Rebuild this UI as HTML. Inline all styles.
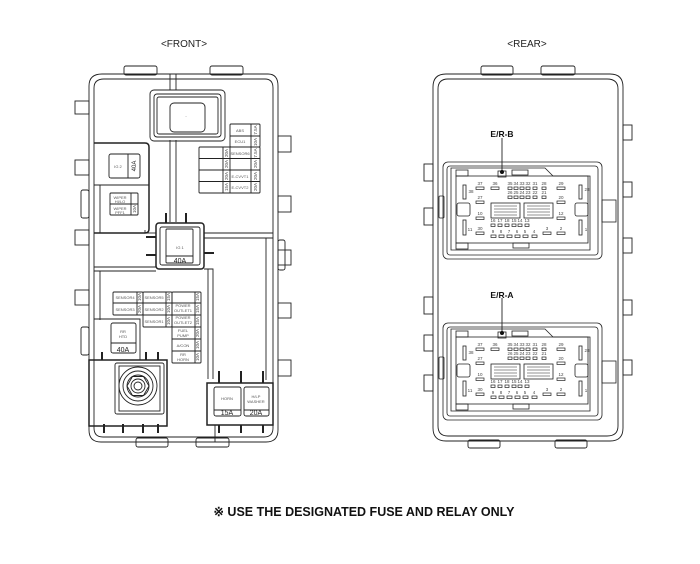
<!DOCTYPE html>
<html><head><meta charset="utf-8"><style>
html,body{margin:0;padding:0;background:#fff;}
svg{display:block;font-family:"Liberation Sans",sans-serif;}
.t{font-size:4px;fill:#555;text-anchor:middle;}
.p{font-size:4.5px;fill:#444;text-anchor:middle;}
</style></head><body>
<svg width="700" height="564" viewBox="0 0 700 564" xmlns="http://www.w3.org/2000/svg">
<g fill="none" stroke="#222" stroke-width="0.9">
<!-- FRONT body -->
<path d="M102 74 H268 Q278 74 278 86 V430 Q278 442 266 442 H101 Q89 442 89 430 V86 Q89 74 102 74 Z"/>
<path d="M104 79 H265 Q273 79 273 88 V428 Q273 437 264 437 H103 Q94 437 94 428 V88 Q94 79 104 79 Z"/>
<rect x="124" y="66" width="33" height="9" rx="2"/><rect x="210" y="66" width="33" height="9" rx="2"/>
<line x1="170" y1="74" x2="170" y2="90"/><line x1="176" y1="74" x2="176" y2="90"/>
<line x1="170" y1="140" x2="170" y2="222"/><line x1="176" y1="140" x2="176" y2="222"/>
<!-- left tabs -->
<rect x="75" y="101" width="14" height="13"/><rect x="75" y="160" width="14" height="15"/><rect x="75" y="230" width="14" height="15"/><rect x="75" y="290" width="14" height="15"/>
<rect x="81" y="190" width="8" height="28" rx="2"/><rect x="81" y="327" width="8" height="28" rx="2"/>
<!-- right tabs -->
<rect x="278" y="136" width="13" height="16"/><rect x="278" y="196" width="13" height="16"/><rect x="278" y="250" width="13" height="15"/><rect x="278" y="303" width="13" height="15"/><rect x="278" y="360" width="13" height="16"/>
<rect x="278" y="240" width="7" height="30" rx="2"/>
<!-- top relay -->
<rect x="150" y="90" width="75" height="51" rx="4"/><rect x="154" y="94" width="67" height="43" rx="3"/><rect x="157" y="97" width="61" height="37" rx="2"/>
<rect x="170" y="103" width="35" height="29" rx="4"/>
<!-- ABS / ECU1 -->
<rect x="230" y="124" width="30" height="23" rx="1"/><line x1="230" y1="136" x2="260" y2="136"/><line x1="251" y1="124" x2="251" y2="147"/>
<rect x="199" y="147" width="61" height="46" rx="1"/>
<line x1="199" y1="158.5" x2="260" y2="158.5"/><line x1="199" y1="170" x2="260" y2="170"/><line x1="199" y1="181.5" x2="260" y2="181.5"/>
<line x1="223" y1="147" x2="223" y2="193"/><line x1="230" y1="147" x2="230" y2="193"/><line x1="251" y1="147" x2="251" y2="193"/>
<!-- left region -->
<path d="M94 143 H145 Q149 143 149 147 V229 Q149 233 145 233 H94" stroke-width="1.5"/>
<line x1="94" y1="185" x2="149" y2="185"/><line x1="100" y1="185" x2="100" y2="233"/>
<rect x="109" y="154" width="31" height="24" rx="2"/><line x1="128" y1="154" x2="128" y2="178"/>
<rect x="110" y="193" width="28" height="22" rx="1"/><line x1="110" y1="204" x2="138" y2="204"/><line x1="131" y1="193" x2="131" y2="215"/>
<!-- IG1 -->
<rect x="156" y="223" width="48" height="46" rx="3" stroke-width="1.5"/><rect x="160" y="227" width="40" height="38" rx="2"/>
<rect x="166" y="229" width="27" height="34" rx="1"/><line x1="166" y1="256" x2="193" y2="256"/>
<line x1="145" y1="233" x2="156" y2="233"/><line x1="204" y1="233" x2="273" y2="233"/><line x1="204" y1="238" x2="273" y2="238"/>
<line x1="145" y1="230" x2="145" y2="233"/>
<line x1="94" y1="267" x2="156" y2="267"/><line x1="94" y1="271" x2="156" y2="271"/>
<line x1="100" y1="271" x2="100" y2="320"/>
<path d="M204 269 H213 V379" /><path d="M208 269 V379"/>
<line x1="266" y1="238" x2="266" y2="380"/>
<!-- fuse grid bottom -->
<rect x="113" y="292" width="30" height="23" rx="1"/><line x1="113" y1="303" x2="143" y2="303"/><line x1="137" y1="292" x2="137" y2="315"/>
<rect x="143" y="292" width="29" height="35" rx="1"/><line x1="143" y1="303" x2="172" y2="303"/><line x1="143" y1="315" x2="172" y2="315"/><line x1="166" y1="292" x2="166" y2="327"/>
<rect x="172" y="292" width="29" height="71" rx="1"/>
<line x1="172" y1="303" x2="201" y2="303"/><line x1="172" y1="315" x2="201" y2="315"/><line x1="172" y1="327" x2="201" y2="327"/><line x1="172" y1="339" x2="201" y2="339"/><line x1="172" y1="351" x2="201" y2="351"/>
<line x1="195" y1="292" x2="195" y2="363"/>
<!-- RR HTD -->
<path d="M94 319 H140 V360"/>
<rect x="111" y="323" width="25" height="30" rx="2"/><line x1="111" y1="343" x2="136" y2="343"/>
<!-- nut box -->
<rect x="89" y="360" width="78" height="66" stroke-width="1.5"/>
<rect x="115" y="363" width="49" height="51" rx="2"/><rect x="119" y="366" width="41" height="45"/>
<circle cx="138" cy="386" r="19"/><circle cx="138" cy="386" r="15"/><circle cx="138" cy="386" r="11"/><circle cx="138" cy="386" r="7"/><circle cx="138" cy="386" r="4"/>
<polygon points="127,386 132.5,376.5 143.5,376.5 149,386 143.5,395.5 132.5,395.5"/>
<line x1="102" y1="352" x2="102" y2="360" stroke-width="2"/><line x1="146" y1="352" x2="146" y2="360" stroke-width="2"/><line x1="158" y1="352" x2="158" y2="360" stroke-width="2"/>
<line x1="104" y1="424" x2="104" y2="433" stroke-width="2"/><line x1="123" y1="424" x2="123" y2="433" stroke-width="2"/><line x1="143" y1="424" x2="143" y2="433" stroke-width="2"/><line x1="158" y1="424" x2="158" y2="433" stroke-width="2"/>
<!-- HORN box -->
<rect x="207" y="383" width="66" height="42" stroke-width="1.5"/>
<rect x="214" y="387" width="27" height="29" rx="2"/><line x1="214" y1="410" x2="241" y2="410"/>
<rect x="244" y="387" width="25" height="29" rx="2"/><line x1="244" y1="410" x2="269" y2="410"/>
<line x1="219" y1="371" x2="219" y2="383" stroke-width="2"/><line x1="241" y1="371" x2="241" y2="383" stroke-width="2"/><line x1="263" y1="371" x2="263" y2="383" stroke-width="2"/>
<line x1="219" y1="425" x2="219" y2="433" stroke-width="2"/><line x1="241" y1="425" x2="241" y2="433" stroke-width="2"/><line x1="263" y1="425" x2="263" y2="433" stroke-width="2"/>
<line x1="215" y1="425" x2="215" y2="442"/>
<rect x="136" y="438" width="32" height="9" rx="2"/><rect x="196" y="438" width="33" height="9" rx="2"/>
<line x1="182" y1="40" x2="182" y2="40"/>
<!-- small pegs around IG1 -->
<line x1="166" y1="213" x2="166" y2="223" stroke-width="2"/><line x1="186" y1="213" x2="186" y2="223" stroke-width="2"/>
<line x1="146" y1="237" x2="156" y2="237" stroke-width="2"/><line x1="146" y1="255" x2="156" y2="255" stroke-width="2"/><line x1="204" y1="253" x2="214" y2="253" stroke-width="2"/>

<!-- REAR body -->
<path d="M446 74 H610 Q623 74 623 87 V428 Q623 441 610 441 H446 Q433 441 433 428 V87 Q433 74 446 74 Z"/>
<path d="M448 79 H607 Q618 79 618 89 V426 Q618 436 607 436 H448 Q438 436 438 426 V89 Q438 79 448 79 Z"/>
<rect x="481" y="66" width="32" height="9" rx="2"/><rect x="541" y="66" width="34" height="9" rx="2"/>
<rect x="468" y="440" width="32" height="8" rx="2"/><rect x="555" y="440" width="32" height="8" rx="2"/>
<rect x="424" y="164" width="9" height="17"/><rect x="424" y="208" width="9" height="17"/><rect x="424" y="297" width="9" height="17"/><rect x="424" y="335" width="9" height="16"/><rect x="424" y="375" width="9" height="16"/>
<rect x="623" y="125" width="9" height="15"/><rect x="623" y="182" width="9" height="15"/><rect x="623" y="238" width="9" height="15"/><rect x="623" y="300" width="9" height="15"/><rect x="623" y="360" width="9" height="15"/>
<line x1="502" y1="138" x2="502" y2="172"/><line x1="502" y1="298" x2="502" y2="333"/>
</g>
<!-- connectors -->
<g id="cb" fill="none" stroke="#222" stroke-width="0.8">
<rect x="443" y="162" width="159" height="97" rx="5"/><rect x="447" y="166" width="151" height="89" rx="3"/>
<path d="M451 168 H545 L553 176 H590 V250 H451 Z"/>
<rect x="456" y="176" width="132" height="67"/>
<rect x="456" y="170" width="12" height="6"/><rect x="498" y="171" width="8" height="6"/><rect x="512" y="170" width="16" height="5"/>
<rect x="456" y="243" width="12" height="6"/><rect x="513" y="243" width="16" height="5"/>
<rect x="457" y="203" width="13" height="13" rx="2"/><rect x="575" y="203" width="13" height="13" rx="2"/>
<rect x="463" y="185" width="3" height="14"/><rect x="463" y="220" width="3" height="15"/><rect x="579" y="185" width="3" height="14"/><rect x="579" y="220" width="3" height="15"/>
<rect x="491" y="203" width="29" height="15"/><rect x="524" y="203" width="29" height="15"/>
<path d="M494 206 H517 M494 209 H517 M494 212 H517 M494 215 H517 M527 206 H550 M527 209 H550 M527 212 H550 M527 215 H550" stroke-width="0.5"/>
<rect x="439" y="196" width="5" height="22" rx="1"/><rect x="602" y="200" width="14" height="22"/>
<g stroke-width="0.7">
<rect x="476" y="187" width="8" height="2.5"/><rect x="491" y="187" width="8" height="2.5"/><rect x="557" y="187" width="8" height="2.5"/>
<rect x="508" y="187" width="4" height="2.5"/><rect x="514" y="187" width="4" height="2.5"/><rect x="520" y="187" width="4" height="2.5"/><rect x="526" y="187" width="4" height="2.5"/><rect x="533" y="187" width="4" height="2.5"/><rect x="542" y="187" width="4" height="2.5"/>
<rect x="508" y="196" width="4" height="2.5"/><rect x="514" y="196" width="4" height="2.5"/><rect x="520" y="196" width="4" height="2.5"/><rect x="526" y="196" width="4" height="2.5"/><rect x="533" y="196" width="4" height="2.5"/><rect x="542" y="196" width="4" height="2.5"/>
<rect x="476" y="201" width="8" height="2.5"/><rect x="557" y="201" width="8" height="2.5"/>
<rect x="476" y="217" width="8" height="2.5"/><rect x="557" y="217" width="8" height="2.5"/>
<rect x="491" y="224" width="4" height="2.5"/><rect x="498" y="224" width="4" height="2.5"/><rect x="505" y="224" width="4" height="2.5"/><rect x="512" y="224" width="4" height="2.5"/><rect x="518" y="224" width="4" height="2.5"/><rect x="525" y="224" width="4" height="2.5"/>
<rect x="476" y="232" width="8" height="2.5"/><rect x="543" y="232" width="8" height="2.5"/><rect x="557" y="232" width="8" height="2.5"/>
<rect x="491" y="235" width="5" height="2.5"/><rect x="499" y="235" width="5" height="2.5"/><rect x="507" y="235" width="5" height="2.5"/><rect x="515" y="235" width="5" height="2.5"/><rect x="523" y="235" width="5" height="2.5"/><rect x="532" y="235" width="5" height="2.5"/>
</g>
</g>
<g transform="translate(0,161)" fill="none" stroke="#222" stroke-width="0.8">
<rect x="443" y="162" width="159" height="97" rx="5"/><rect x="447" y="166" width="151" height="89" rx="3"/>
<path d="M451 168 H545 L553 176 H590 V250 H451 Z"/>
<rect x="456" y="176" width="132" height="67"/>
<rect x="456" y="170" width="12" height="6"/><rect x="498" y="171" width="8" height="6"/><rect x="512" y="170" width="16" height="5"/>
<rect x="456" y="243" width="12" height="6"/><rect x="513" y="243" width="16" height="5"/>
<rect x="457" y="203" width="13" height="13" rx="2"/><rect x="575" y="203" width="13" height="13" rx="2"/>
<rect x="463" y="185" width="3" height="14"/><rect x="463" y="220" width="3" height="15"/><rect x="579" y="185" width="3" height="14"/><rect x="579" y="220" width="3" height="15"/>
<rect x="491" y="203" width="29" height="15"/><rect x="524" y="203" width="29" height="15"/>
<path d="M494 206 H517 M494 209 H517 M494 212 H517 M494 215 H517 M527 206 H550 M527 209 H550 M527 212 H550 M527 215 H550" stroke-width="0.5"/>
<rect x="439" y="196" width="5" height="22" rx="1"/><rect x="602" y="200" width="14" height="22"/>
<g stroke-width="0.7">
<rect x="476" y="187" width="8" height="2.5"/><rect x="491" y="187" width="8" height="2.5"/><rect x="557" y="187" width="8" height="2.5"/>
<rect x="508" y="187" width="4" height="2.5"/><rect x="514" y="187" width="4" height="2.5"/><rect x="520" y="187" width="4" height="2.5"/><rect x="526" y="187" width="4" height="2.5"/><rect x="533" y="187" width="4" height="2.5"/><rect x="542" y="187" width="4" height="2.5"/>
<rect x="508" y="196" width="4" height="2.5"/><rect x="514" y="196" width="4" height="2.5"/><rect x="520" y="196" width="4" height="2.5"/><rect x="526" y="196" width="4" height="2.5"/><rect x="533" y="196" width="4" height="2.5"/><rect x="542" y="196" width="4" height="2.5"/>
<rect x="476" y="201" width="8" height="2.5"/><rect x="557" y="201" width="8" height="2.5"/>
<rect x="476" y="217" width="8" height="2.5"/><rect x="557" y="217" width="8" height="2.5"/>
<rect x="491" y="224" width="4" height="2.5"/><rect x="498" y="224" width="4" height="2.5"/><rect x="505" y="224" width="4" height="2.5"/><rect x="512" y="224" width="4" height="2.5"/><rect x="518" y="224" width="4" height="2.5"/><rect x="525" y="224" width="4" height="2.5"/>
<rect x="476" y="232" width="8" height="2.5"/><rect x="543" y="232" width="8" height="2.5"/><rect x="557" y="232" width="8" height="2.5"/>
<rect x="491" y="235" width="5" height="2.5"/><rect x="499" y="235" width="5" height="2.5"/><rect x="507" y="235" width="5" height="2.5"/><rect x="515" y="235" width="5" height="2.5"/><rect x="523" y="235" width="5" height="2.5"/><rect x="532" y="235" width="5" height="2.5"/>
</g>
</g>
<circle cx="502" cy="172" r="2" fill="#111"/><circle cx="502" cy="333" r="2" fill="#111"/>
<!-- pin labels -->
<g class="p">
<text x="480" y="185">37</text><text x="495" y="185">36</text><text x="510" y="185">35</text><text x="516" y="185">34</text><text x="522" y="185">33</text><text x="528" y="185">32</text><text x="535" y="185">31</text><text x="544" y="185">28</text><text x="561" y="185">29</text>
<text x="510" y="194">26</text><text x="516" y="194">25</text><text x="522" y="194">24</text><text x="528" y="194">23</text><text x="535" y="194">22</text><text x="544" y="194">21</text>
<text x="480" y="199">27</text><text x="561" y="199">20</text><text x="480" y="215">10</text><text x="561" y="215">12</text>
<text x="493" y="222">16</text><text x="500" y="222">17</text><text x="507" y="222">18</text><text x="514" y="222">15</text><text x="520" y="222">14</text><text x="527" y="222">13</text>
<text x="480" y="230">30</text><text x="547" y="230">3</text><text x="561" y="230">2</text>
<text x="493" y="233">9</text><text x="501" y="233">8</text><text x="509" y="233">7</text><text x="517" y="233">6</text><text x="525" y="233">5</text><text x="534" y="233">4</text>
<text x="471" y="193">38</text><text x="587" y="191">28</text><text x="470" y="231">11</text><text x="586" y="231">1</text>
</g>
<g class="p" transform="translate(0,161)">
<text x="480" y="185">37</text><text x="495" y="185">36</text><text x="510" y="185">35</text><text x="516" y="185">34</text><text x="522" y="185">33</text><text x="528" y="185">32</text><text x="535" y="185">31</text><text x="544" y="185">28</text><text x="561" y="185">29</text>
<text x="510" y="194">26</text><text x="516" y="194">25</text><text x="522" y="194">24</text><text x="528" y="194">23</text><text x="535" y="194">22</text><text x="544" y="194">21</text>
<text x="480" y="199">27</text><text x="561" y="199">20</text><text x="480" y="215">10</text><text x="561" y="215">12</text>
<text x="493" y="222">16</text><text x="500" y="222">17</text><text x="507" y="222">18</text><text x="514" y="222">15</text><text x="520" y="222">14</text><text x="527" y="222">13</text>
<text x="480" y="230">30</text><text x="547" y="230">3</text><text x="561" y="230">2</text>
<text x="493" y="233">9</text><text x="501" y="233">8</text><text x="509" y="233">7</text><text x="517" y="233">6</text><text x="525" y="233">5</text><text x="534" y="233">4</text>
<text x="471" y="193">38</text><text x="587" y="191">28</text><text x="470" y="231">11</text><text x="586" y="231">1</text>
</g>
<text x="502" y="137" font-size="8.5" font-weight="bold" text-anchor="middle" fill="#111">E/R-B</text>
<text x="502" y="298" font-size="8.5" font-weight="bold" text-anchor="middle" fill="#111">E/R-A</text>
<!-- front labels -->
<g class="t">
<text x="240" y="132">ABS</text><text x="240" y="143">ECU1</text>
<text x="240" y="155">SENSOR6</text><text x="240" y="178">E-CVVT1</text><text x="240" y="189">E-CVVT2</text>
<text x="186" y="117">-</text><text x="118" y="168">IG 2</text>
<text x="120" y="199">WIPER</text><text x="120" y="203">HI/LO</text><text x="120" y="210">WIPER</text><text x="120" y="214">PFF1</text>
<text x="180" y="249">IG 1</text>
<text x="125" y="299">SENSOR4</text><text x="125" y="311">SENSOR3</text><text x="154" y="299">SENSOR5</text><text x="154" y="311">SENSOR2</text><text x="154" y="323">SENSOR1</text>
<text x="183" y="307">POWER</text><text x="183" y="312">OUTLET1</text><text x="183" y="319">POWER</text><text x="183" y="324">OUTLET2</text>
<text x="183" y="332">FUEL</text><text x="183" y="337">PUMP</text><text x="183" y="347">A/CON</text><text x="183" y="356">RR</text><text x="183" y="361">HORN</text>
<text x="123" y="333">RR</text><text x="123" y="338">HTD</text>
<text x="227" y="400">HORN</text><text x="256" y="398">H/LP</text><text x="256" y="403">WASHER</text>
</g>
<g font-size="7" text-anchor="middle" fill="#222">
<text x="123" y="352">40A</text><text x="180" y="263">40A</text><text x="227" y="415">15A</text><text x="256" y="415">20A</text>
<text transform="translate(136,166) rotate(-90)" font-size="6">40A</text>
</g>
<g font-size="4.5" text-anchor="middle" fill="#444">
<text transform="translate(257,130) rotate(-90)">7.5A</text><text transform="translate(257,142) rotate(-90)">10A</text>
<text transform="translate(228,153) rotate(-90)">20A</text><text transform="translate(257,153) rotate(-90)">7.5A</text>
<text transform="translate(228,164) rotate(-90)">20A</text><text transform="translate(257,164) rotate(-90)">20A</text>
<text transform="translate(228,176) rotate(-90)">20A</text><text transform="translate(257,176) rotate(-90)">20A</text>
<text transform="translate(228,187) rotate(-90)">15A</text><text transform="translate(257,187) rotate(-90)">20A</text>
<text transform="translate(136,209) rotate(-90)">10A</text><text transform="translate(136,210) rotate(-90)" dy="0"></text>
<text transform="translate(141,297) rotate(-90)">10A</text><text transform="translate(141,309) rotate(-90)">20A</text>
<text transform="translate(170,297) rotate(-90)">15A</text><text transform="translate(170,309) rotate(-90)">10A</text><text transform="translate(170,321) rotate(-90)">10A</text>
<text transform="translate(199,297) rotate(-90)">15A</text><text transform="translate(199,309) rotate(-90)">15A</text><text transform="translate(199,321) rotate(-90)">15A</text>
<text transform="translate(199,333) rotate(-90)">20A</text><text transform="translate(199,345) rotate(-90)">10A</text><text transform="translate(199,357) rotate(-90)">10A</text>
</g>
<text x="184" y="47" font-size="10" text-anchor="middle" fill="#222">&lt;FRONT&gt;</text>
<text x="527" y="47" font-size="10" text-anchor="middle" fill="#222">&lt;REAR&gt;</text>
<text x="364" y="516" font-size="12.5" font-weight="bold" text-anchor="middle" fill="#111">※ USE THE DESIGNATED FUSE AND RELAY ONLY</text>
</svg>
</body></html>
